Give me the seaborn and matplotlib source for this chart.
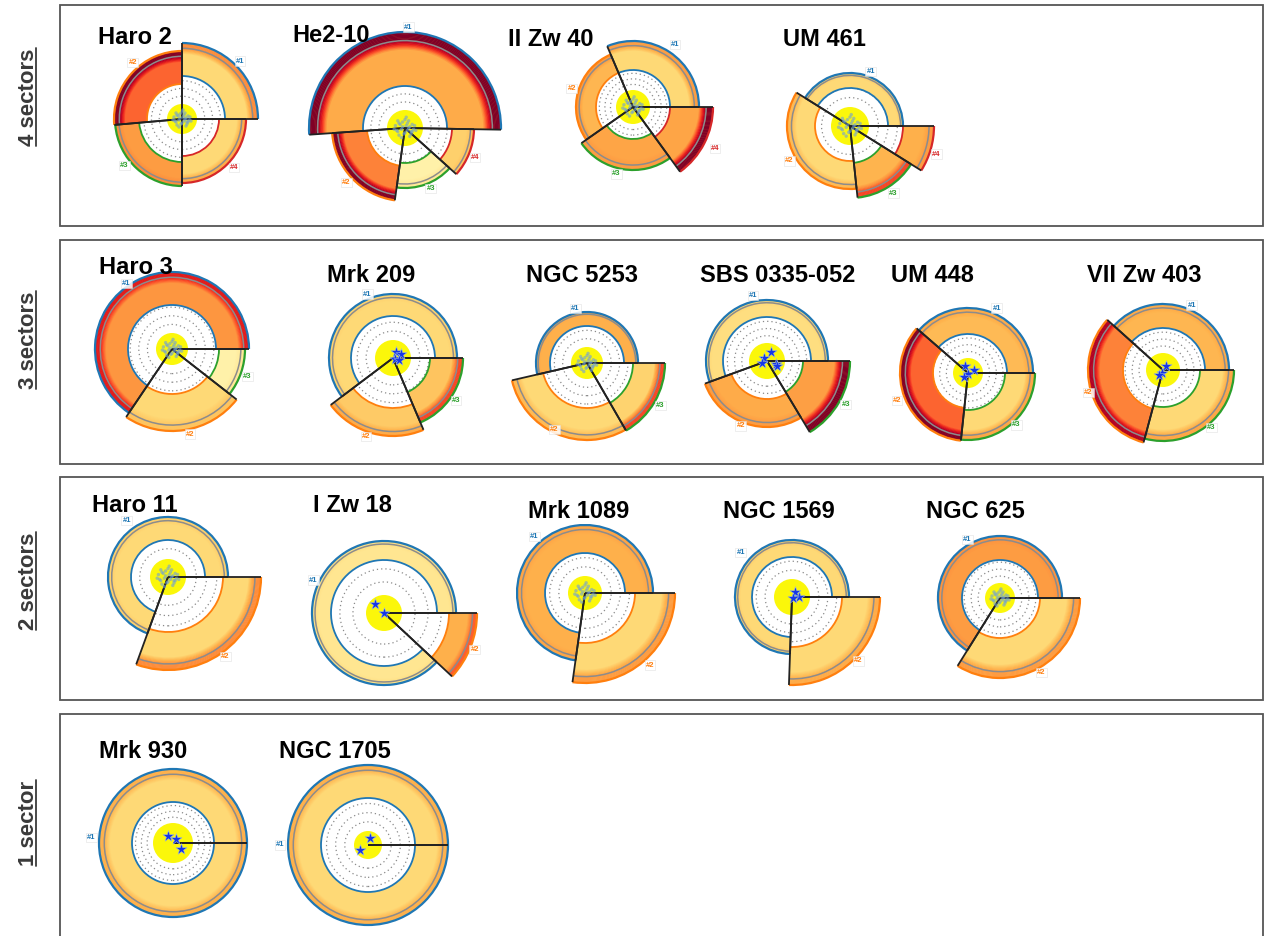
import numpy as np
import matplotlib
matplotlib.use("Agg")
import matplotlib.pyplot as plt
from matplotlib.patches import Wedge, Arc, Circle, Rectangle
import seaborn as sns

W, H = 1265, 936

ROW_LABELS = ["4 sectors", "3 sectors", "2 sectors", "1 sector"]
ROW1 = ["Haro 2", "He2-10", "II Zw 40", "UM 461"]
ROW2 = ["Haro 3", "Mrk 209", "NGC 5253", "SBS 0335-052", "UM 448", "VII Zw 403"]
ROW3 = ["Haro 11", "I Zw 18", "Mrk 1089", "NGC 1569", "NGC 625"]
ROW4 = ["Mrk 930", "NGC 1705"]

# sectors: (theta1, theta2, r_in, r_out, fill level, outer level, label angle, label radius)
HARO2 = [(0, 90, 43, 76, 0.25, 0.50, 45, 82), (90, 185, 35, 68, 0.58, 1.0, 131, 75),
         (185, 270, 43, 67, 0.45, 0.50, 219, 74), (270, 360, 37, 64, 0.25, 0.40, 317, 71)]
HE2_10 = [(-1, 184, 42, 96, 0.40, 1.0, 88, 101), (184, 262, 38, 73, 0.52, 1.0, 223, 80),
          (262, 318, 35, 60, 0.10, 0.15, 293, 66), (318, 359, 47, 69, 0.28, 0.32, 337, 76)]
IIZW40 = [(0, 113, 37, 66, 0.25, 0.45, 56, 75), (113, 215, 37, 57, 0.36, 0.45, 163, 64),
          (215, 306, 32, 63, 0.42, 0.45, 256, 69), (306, 360, 37, 80, 0.42, 1.0, 333, 92)]
UM461 = [(0, 148, 38, 53, 0.25, 0.28, 69, 58), (148, 276, 35, 63, 0.25, 0.35, 210, 70),
         (276, 328, 37, 72, 0.37, 0.65, 303, 80), (328, 360, 53, 84, 0.38, 0.45, 342, 91)]
HARO3 = [(0, 236, 44, 77, 0.47, 0.75, 125, 80), (236, 322, 45, 82, 0.25, 0.32, 282, 87),
         (322, 360, 47, 73, 0.10, 0.15, 340, 80)]
MRK209 = [(0, 217, 42, 64, 0.25, 0.27, 112, 69), (217, 293, 50, 78, 0.30, 0.40, 251, 83),
          (293, 360, 37, 70, 0.32, 0.65, 326, 76)]
NGC5253 = [(0, 193, 37, 51, 0.38, 0.40, 102, 56), (193, 300, 45, 77, 0.25, 0.35, 244, 74),
           (300, 360, 46, 78, 0.27, 0.65, 330, 85)]
SBS0335 = [(0, 200, 44, 61, 0.22, 0.25, 102, 67), (200, 301, 38, 66, 0.40, 0.45, 248, 70),
           (301, 360, 36, 83, 0.44, 1.0, 331, 90)]
UM448 = [(0, 139, 39, 65, 0.35, 0.40, 66, 71), (139, 264, 35, 68, 0.58, 1.0, 201, 76),
         (264, 360, 37, 67, 0.25, 0.42, 313, 71)]
VIIZW403 = [(0, 138, 42, 66, 0.36, 0.40, 66, 71), (138, 255, 40, 75, 0.52, 0.90, 197, 78),
            (255, 360, 37, 71, 0.25, 0.42, 310, 75)]
HARO11 = [(0, 250, 37, 60, 0.25, 0.28, 126, 70), (250, 360, 55, 93, 0.25, 0.50, 306, 98)]
IZW18 = [(0, 317, 53, 72, 0.17, 0.20, 155, 78), (317, 360, 65, 93, 0.38, 0.60, 338, 98)]
MRK1089 = [(0, 262, 40, 68, 0.38, 0.42, 132, 76), (262, 360, 50, 90, 0.25, 0.45, 312, 97)]
NGC1569 = [(0, 268, 40, 57, 0.25, 0.28, 139, 68), (268, 360, 50, 88, 0.25, 0.40, 316, 92)]
NGC625 = [(0, 238, 38, 62, 0.45, 0.48, 119, 67), (238, 360, 40, 80, 0.25, 0.45, 299, 85)]
MRK930 = [(0, 360, 41, 74, 0.25, 0.38, 176, 82)]
NGC1705 = [(0, 360, 47, 80, 0.25, 0.38, 180, 88)]

SECTORS = {"Haro 2": HARO2, "He2-10": HE2_10, "II Zw 40": IIZW40, "UM 461": UM461,
           "Haro 3": HARO3, "Mrk 209": MRK209, "NGC 5253": NGC5253, "SBS 0335-052": SBS0335,
           "UM 448": UM448, "VII Zw 403": VIIZW403, "Haro 11": HARO11, "I Zw 18": IZW18,
           "Mrk 1089": MRK1089, "NGC 1569": NGC1569, "NGC 625": NGC625,
           "Mrk 930": MRK930, "NGC 1705": NGC1705}

# radius of the yellow core
CORE_R = {"Haro 2": 15, "He2-10": 18, "II Zw 40": 17, "UM 461": 19, "Haro 3": 16,
          "Mrk 209": 18, "NGC 5253": 16, "SBS 0335-052": 18, "UM 448": 15,
          "VII Zw 403": 17, "Haro 11": 18, "I Zw 18": 18, "Mrk 1089": 17,
          "NGC 1569": 18, "NGC 625": 15, "Mrk 930": 20, "NGC 1705": 14}

# resolved clusters (offsets from the centre, px)
STARS = {"Mrk 209": [(3, 6), (8, 4), (2, -1), (6, -2)],
         "SBS 0335-052": [(4, 9), (-3, 3), (-5, -2), (9, -3), (10, -5)],
         "UM 448": [(-3, 7), (6, 3), (0, -1), (-4, -4)],
         "VII Zw 403": [(3, 4), (-1, -3), (-4, -5)],
         "I Zw 18": [(-9, 9), (0, 0)],
         "NGC 1569": [(3, 5), (7, 0), (1, -1)],
         "Mrk 930": [(-5, 7), (3, 4), (8, -6)],
         "NGC 1705": [(2, 7), (-8, -5)]}
# unresolved diffuse emission pattern (px, for a core of 15 px)
CLUSTER_DX = [-8, -6, -5, -3, -2, 0, 1, 2, 3, 4, 5, 6, 7, 8, -7, -4, -1, 2, 5, -5, 0, 3, 6, -2,
              -9, 9, -6, 4, 1, -3]
CLUSTER_DY = [2, -3, 4, -1, 5, -4, 2, -2, 6, 1, -5, 3, -1, 2, -2, 3, -5, 4, -3, -6, 7, 0, -3, 1,
              -1, -2, 6, -7, 9, -8]

# ---- layout (pixel coordinates, measured from the top-left) ----
CENTRES = {"Haro 2": (182, 119), "He2-10": (405, 128), "II Zw 40": (633, 107),
           "UM 461": (850, 126), "Haro 3": (172, 349), "Mrk 209": (393, 358),
           "NGC 5253": (587, 363), "SBS 0335-052": (767, 361), "UM 448": (968, 373),
           "VII Zw 403": (1163, 370), "Haro 11": (168, 577), "I Zw 18": (384, 613),
           "Mrk 1089": (585, 593), "NGC 1569": (792, 597), "NGC 625": (1000, 598),
           "Mrk 930": (173, 843), "NGC 1705": (368, 845)}
TITLES = {"Haro 2": (98, 37), "He2-10": (292, 36), "II Zw 40": (508, 40), "UM 461": (783, 40),
          "Haro 3": (99, 267), "Mrk 209": (327, 276), "NGC 5253": (526, 276),
          "SBS 0335-052": (700, 275), "UM 448": (891, 276), "VII Zw 403": (1087, 276),
          "Haro 11": (92, 506), "I Zw 18": (313, 506), "Mrk 1089": (528, 511),
          "NGC 1569": (723, 511), "NGC 625": (926, 511), "Mrk 930": (99, 752),
          "NGC 1705": (279, 752)}
BOXES = [(5, 226), (240, 464), (477, 700), (714, 945)]
ROW_LABEL_Y = [97, 340, 581, 823]

sns.set_theme(style="white")
plt.rcParams["font.family"] = ["Liberation Sans", "DejaVu Sans"]
cmap = sns.color_palette("YlOrRd", as_cmap=True)
sec_cols = sns.color_palette("tab10")
sec_cols = [sec_cols[0], sec_cols[1], sec_cols[2], sec_cols[3]]

fig = plt.figure(figsize=(12.65, 9.36), dpi=100)
ax = fig.add_axes([0, 0, 1, 1])


def up(y):
    return H - y


def draw_galaxy(name):
    cx, cy = CENTRES[name]
    cy = up(cy)
    sectors = SECTORS[name]
    core = CORE_R[name]
    rmax_in = max(s[2] for s in sectors)
    for k in (1, 2, 3):
        r = core + (rmax_in - core) * k / 3.6
        ax.add_patch(Circle((cx, cy), r, fill=False, ls=(0, (1, 2.4)), lw=0.9,
                            ec="#8a8a8a", zorder=1))
    ax.add_patch(Circle((cx, cy), core, fc="#fbf70a", ec="none", zorder=2))

    for i, (t1, t2, rin, rout, v0, v1, la, lr) in enumerate(sectors):
        col = sec_cols[i]
        ax.add_patch(Wedge((cx, cy), rout, t1, t2, width=rout - rin,
                           fc=cmap(v0), ec="none", zorder=3))
        band = 0.32 * (rout - rin)
        n = 14
        for k in range(n):
            rb = rout - band + band * (k + 1) / n
            frac = min(1.0, (k + 1) / (0.6 * n))
            c = cmap(v0 + (v1 - v0) * frac)
            ax.add_patch(Wedge((cx, cy), rb, t1, t2, width=band / n + 0.4,
                               fc=c, ec="none", zorder=3))
        ax.add_patch(Arc((cx, cy), 2 * (rout - 0.5 * band), 2 * (rout - 0.5 * band),
                         theta1=t1, theta2=t2, color="#8c8c8c", lw=1.1, zorder=4))
        ax.add_patch(Arc((cx, cy), 2 * rin, 2 * rin, theta1=t1, theta2=t2,
                         color=col, lw=1.3, zorder=4))
        ax.add_patch(Arc((cx, cy), 2 * rout, 2 * rout, theta1=t1, theta2=t2,
                         color=col, lw=1.6, zorder=4))
        for t in (t1, t2):
            a = np.deg2rad(t)
            ax.plot([cx, cx + rout * np.cos(a)], [cy, cy + rout * np.sin(a)],
                    color="#222222", lw=1.3, zorder=6, solid_capstyle="butt")
        a = np.deg2rad(la)
        ax.text(cx + lr * np.cos(a), cy + lr * np.sin(a), f"#{i + 1}", color=col,
                fontsize=5.5, fontweight="bold", ha="center", va="center", zorder=7,
                bbox=dict(boxstyle="square,pad=0.15", fc="white", ec="#dddddd",
                          lw=0.4, alpha=0.85))

    if name in STARS:
        dx = [p[0] for p in STARS[name]]
        dy = [p[1] for p in STARS[name]]
        sns.scatterplot(x=[cx + d for d in dx], y=[cy + d for d in dy], ax=ax,
                        marker="*", s=70, color="#1536e8", edgecolor="#9fb8d6",
                        linewidth=0.4, zorder=8, legend=False)
    else:
        f = core / 15
        sns.scatterplot(x=[cx + d * f for d in CLUSTER_DX], y=[cy + d * f for d in CLUSTER_DY],
                        ax=ax, marker="o", s=6, color="#6f9fd8", edgecolor="none",
                        alpha=0.6, zorder=8, legend=False)

    tx, ty = TITLES[name]
    ax.text(tx, up(ty), name, fontsize=17, fontweight="bold", color="black",
            ha="left", va="center", zorder=9)


for y0, y1 in BOXES:
    ax.add_patch(Rectangle((60, up(y1)), 1203, y1 - y0, fill=False, ec="#555555",
                           lw=1.3, zorder=0))

for name in ROW1 + ROW2 + ROW3 + ROW4:
    draw_galaxy(name)

labels = []
for lab, y in zip(ROW_LABELS, ROW_LABEL_Y):
    t = ax.text(28, up(y), lab, rotation=90, fontsize=16, fontweight="bold",
                color="#3a3a3a", ha="center", va="center")
    labels.append(t)

ax.set_xlim(0, W)
ax.set_ylim(0, H)
ax.set_aspect("equal")
ax.axis("off")

# underline the rotated row labels
fig.canvas.draw()
inv = ax.transData.inverted()
for t in labels:
    bb = t.get_window_extent()
    (x0, y0), (x1, y1) = inv.transform([(bb.x0, bb.y0), (bb.x1, bb.y1)])
    ax.plot([x1 - 2.5, x1 - 2.5], [y0, y1], color="#3a3a3a", lw=1.3)

fig.savefig("out.png", dpi=100, facecolor="white")
